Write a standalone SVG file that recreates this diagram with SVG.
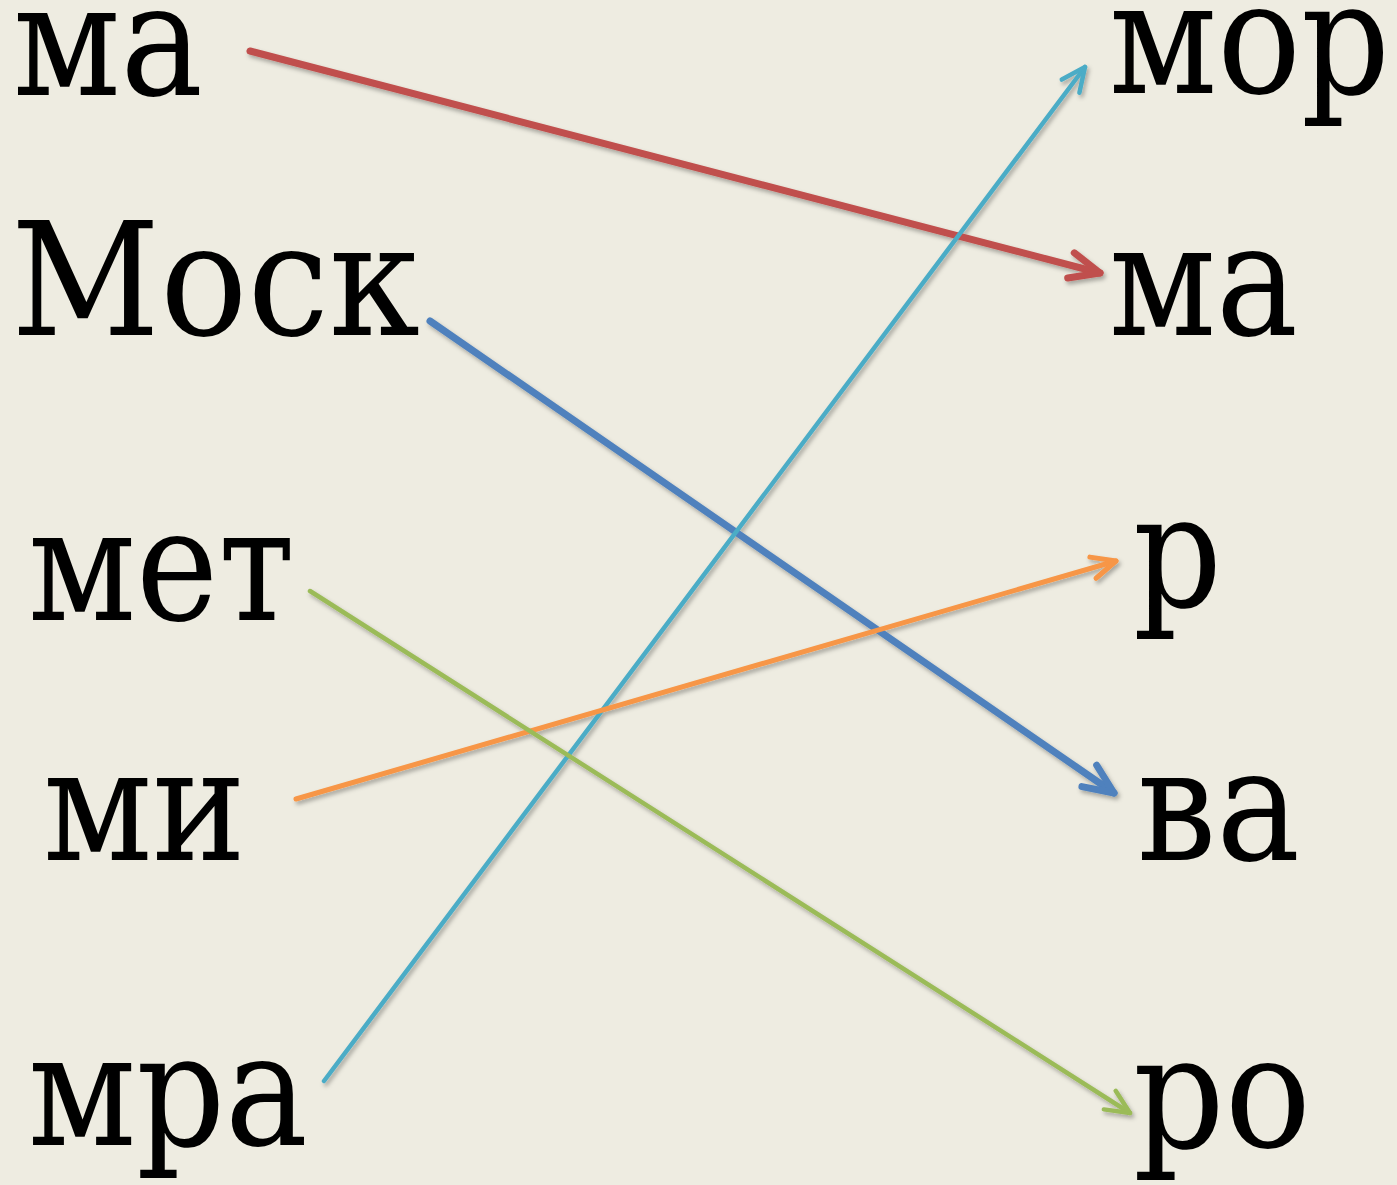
<svg xmlns="http://www.w3.org/2000/svg" width="1397" height="1185" viewBox="0 0 1397 1185">
<defs>
<style>
.t{font-family:"DejaVu Serif",serif;font-size:157px;fill:#000;}
.c{fill:none;stroke-linecap:round;stroke-linejoin:round;}
</style>
<filter id="sh" x="-10%" y="-10%" width="120%" height="120%">
<feDropShadow dx="2" dy="3" stdDeviation="2" flood-color="#000" flood-opacity="0.3"/>
</filter>
<marker id="mr" markerUnits="userSpaceOnUse" orient="auto" markerWidth="60" markerHeight="60" refX="0" refY="0" viewBox="-40 -30 60 60" overflow="visible"><path d="M-30,-13 L0,0 L-30,13" fill="none" stroke="#C0504D" stroke-width="7" stroke-linecap="round" stroke-linejoin="round"/></marker>
<marker id="mb" markerUnits="userSpaceOnUse" orient="auto" markerWidth="60" markerHeight="60" refX="0" refY="0" viewBox="-40 -30 60 60" overflow="visible"><path d="M-30,-13 L0,0 L-30,13" fill="none" stroke="#4F81BD" stroke-width="7" stroke-linecap="round" stroke-linejoin="round"/></marker>
<marker id="mc" markerUnits="userSpaceOnUse" orient="auto" markerWidth="60" markerHeight="60" refX="0" refY="0" viewBox="-40 -30 60 60" overflow="visible"><path d="M-24,-11 L0,0 L-24,11" fill="none" stroke="#4BACC6" stroke-width="4.5" stroke-linecap="round" stroke-linejoin="round"/></marker>
<marker id="mo" markerUnits="userSpaceOnUse" orient="auto" markerWidth="60" markerHeight="60" refX="0" refY="0" viewBox="-40 -30 60 60" overflow="visible"><path d="M-24,-11 L0,0 L-24,11" fill="none" stroke="#F79646" stroke-width="5" stroke-linecap="round" stroke-linejoin="round"/></marker>
<marker id="mg" markerUnits="userSpaceOnUse" orient="auto" markerWidth="60" markerHeight="60" refX="0" refY="0" viewBox="-40 -30 60 60" overflow="visible"><path d="M-24,-11 L0,0 L-24,11" fill="none" stroke="#9BBB59" stroke-width="4.5" stroke-linecap="round" stroke-linejoin="round"/></marker>
</defs>
<rect width="1397" height="1185" fill="#EEECE1"/>
<g id="left-ma"><text class="t" x="13" y="95" textLength="190" lengthAdjust="spacingAndGlyphs">ма</text></g>
<g id="left-mosk"><text class="t" x="11" y="335" textLength="409" lengthAdjust="spacingAndGlyphs">Моск</text></g>
<g id="left-met"><text class="t" x="28" y="620" textLength="267" lengthAdjust="spacingAndGlyphs">мет</text></g>
<g id="left-mi"><text class="t" x="43" y="860" textLength="203" lengthAdjust="spacingAndGlyphs">ми</text></g>
<g id="left-mra"><text class="t" x="28" y="1145" textLength="280" lengthAdjust="spacingAndGlyphs">мра</text></g>
<g id="right-mor"><text class="t" x="1109" y="93" textLength="281" lengthAdjust="spacingAndGlyphs">мор</text></g>
<g id="right-ma"><text class="t" x="1109" y="335" textLength="189" lengthAdjust="spacingAndGlyphs">ма</text></g>
<g id="right-r"><text class="t" x="1133" y="606" textLength="89" lengthAdjust="spacingAndGlyphs">р</text></g>
<g id="right-va"><text class="t" x="1137" y="860" textLength="163" lengthAdjust="spacingAndGlyphs">ва</text></g>
<g id="right-ro"><text class="t" x="1133" y="1147" textLength="178" lengthAdjust="spacingAndGlyphs">ро</text></g>
<g id="connectors" filter="url(#sh)">
<line class="c" x1="250" y1="51" x2="1100" y2="273" stroke="#C0504D" stroke-width="7" marker-end="url(#mr)"/>
<line class="c" x1="430" y1="321" x2="1114" y2="793" stroke="#4F81BD" stroke-width="7" marker-end="url(#mb)"/>
<line class="c" x1="324" y1="1081" x2="1085" y2="67" stroke="#4BACC6" stroke-width="4.5" marker-end="url(#mc)"/>
<line class="c" x1="296" y1="799" x2="1116" y2="561" stroke="#F79646" stroke-width="5" marker-end="url(#mo)"/>
<line class="c" x1="310" y1="591" x2="1130" y2="1113" stroke="#9BBB59" stroke-width="4.5" marker-end="url(#mg)"/>
</g>
</svg>
